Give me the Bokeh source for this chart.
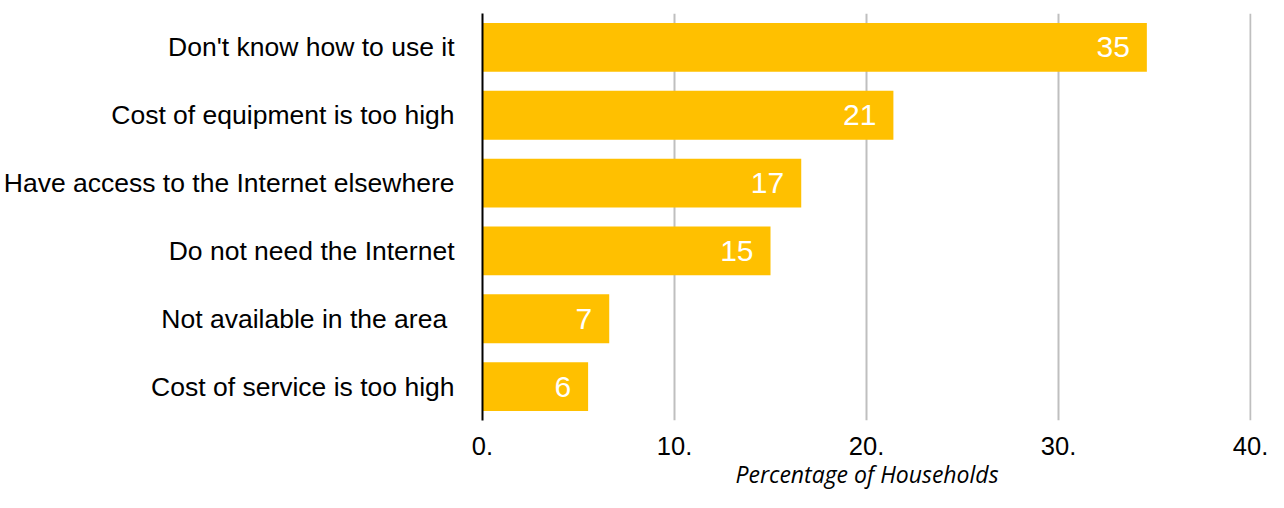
from bokeh.plotting import figure
from bokeh.models import ColumnDataSource, Range1d, FactorRange, FixedTicker, LabelSet
from bokeh.core.properties import value
from bokeh.embed import file_html
from bokeh.resources import INLINE

categories = ["Don't know how to use it", "Cost of equipment is too high",
              "Have access to the Internet elsewhere", "Do not need the Internet",
              "Not available in the area ", "Cost of service is too high"]
values = [34.6, 21.4, 16.6, 15.0, 6.6, 5.5]
value_labels = ["35", "21", "17", "15", "7", "6"]
tick_values = [0, 10, 20, 30, 40]
tick_labels = ["0.", "10.", "20.", "30.", "40."]

src = ColumnDataSource(dict(cat=categories, val=values, lab=value_labels))

p = figure(width=1268, height=492, output_backend="svg", toolbar_location=None,
           y_range=FactorRange(*reversed(categories), range_padding=0),
           x_range=Range1d(0, 40.05),
           min_border_left=482, min_border_right=17, min_border_top=13, min_border_bottom=66)
p.hbar(y="cat", right="val", left=0, height=0.72, source=src, color="#FFC000", line_color=None)
p.add_layout(LabelSet(x="val", y="cat", text="lab", source=src, x_offset=-17,
                      text_align="right", text_baseline="middle", text_color="white",
                      text_font=value("Liberation Sans"), text_font_size="30px"))

p.outline_line_color = None
p.ygrid.grid_line_color = None
p.xgrid.grid_line_color = "#bfbfbf"
p.xgrid.grid_line_width = 2
p.xaxis.ticker = FixedTicker(ticks=tick_values)
p.xaxis.major_label_overrides = {t: l for t, l in zip(tick_values, tick_labels)}
p.xaxis.axis_line_color = None
p.xaxis.major_tick_line_color = None
p.xaxis.minor_tick_line_color = None
p.xaxis.major_label_text_font = "Liberation Sans"
p.xaxis.major_label_text_font_size = "25.5px"
p.xaxis.major_label_text_color = "black"
p.xaxis.major_label_standoff = 10
p.xaxis.axis_label = "Percentage of Households"
p.xaxis.axis_label_text_font = "Open Sans"
p.xaxis.axis_label_text_font_style = "italic"
p.xaxis.axis_label_text_font_size = "23px"
p.xaxis.axis_label_text_color = "black"
p.xaxis.axis_label_standoff = 0

p.yaxis.axis_line_color = "black"
p.yaxis.axis_line_width = 2
p.yaxis.major_tick_line_color = None
p.yaxis.minor_tick_line_color = None
p.yaxis.major_label_text_font = "Liberation Sans"
p.yaxis.major_label_text_font_size = "26.5px"
p.yaxis.major_label_text_color = "black"
p.yaxis.major_label_standoff = 22

open("out.html", "w").write(file_html(p, INLINE))
